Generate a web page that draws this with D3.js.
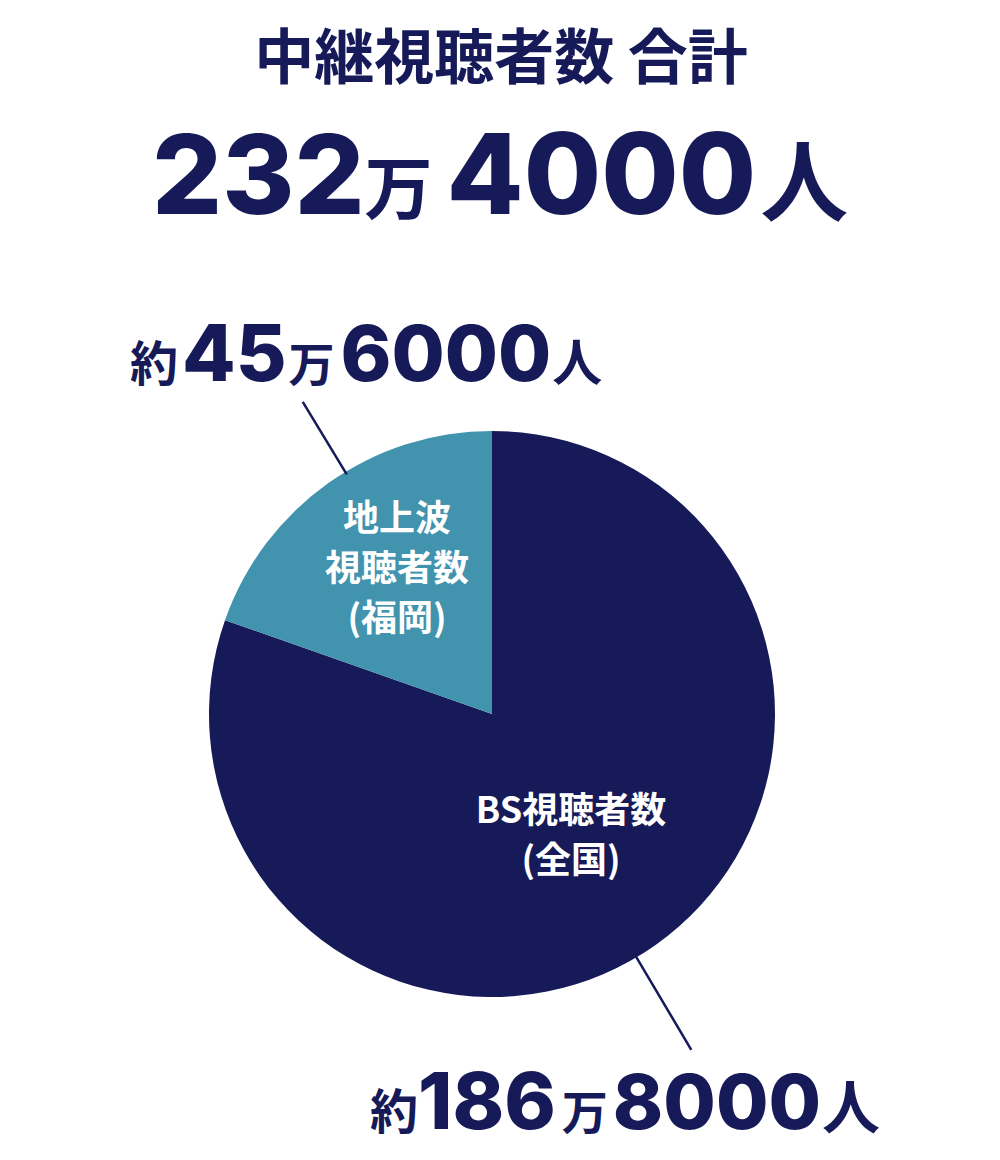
<!DOCTYPE html>
<html>
<head>
<meta charset="utf-8">
<script src="https://cdn.jsdelivr.net/npm/d3@7"></script>
<style>
  body { margin: 0; background: #fff; }
  svg { display: block; }
</style>
</head>
<body>
<svg id="chart" width="1000" height="1160"></svg>
<script>
// data
var categories = ["BS視聴者数(全国)", "地上波視聴者数(福岡)"];
var values = [186.8, 45.6];            // 万人
var sliceColors = ["#161a58", "#4193ae"];
var totalParts = ["232", "万", "4000", "人"];
var labelParts = [["約", "186", "万", "8000", "人"], ["約", "45", "万", "6000", "人"]];
var innerLines = [["BS視聴者数", "(全国)"], ["地上波", "視聴者数", "(福岡)"]];

var navy = "#161a58";
var cjk = "'Noto Sans CJK JP', sans-serif";
var num = "Inter, 'Noto Sans', sans-serif";

var svg = d3.select("#chart");

// TITLE
svg.append("text")
    .attr("x", 501).attr("y", 79)
    .attr("text-anchor", "middle")
    .attr("font-family", cjk).attr("font-weight", 700)
    .attr("font-size", 60).attr("fill", navy)
    .text("中継視聴者数 合計");

// big number with mixed sizes
function numberText(parts, x, y, sizes, fams, gaps) {
    var t = svg.append("text")
        .attr("x", x).attr("y", y)
        .attr("fill", navy);
    parts.forEach(function (p, i) {
        t.append("tspan")
            .attr("font-size", sizes[i])
            .attr("font-family", fams[i])
            .attr("font-weight", fams[i] == num ? 800 : 700)
            .attr("dx", gaps[i])
            .text(p);
    });
    return t;
}

numberText(totalParts, 152, 214, [110, 68, 112, 88], [num, cjk, num, cjk], [0, 0, 14, 4]);

// PIE
var cx = 492, cy = 714, r = 283;
var pie = d3.pie().sort(null).value(function (d) { return d; });
var arc = d3.arc().innerRadius(0).outerRadius(r);
var arcs = pie(values);

var g = svg.append("g").attr("transform", "translate(" + cx + "," + cy + ")");
g.selectAll("path")
    .data(arcs)
    .enter().append("path")
    .attr("d", arc)
    .attr("fill", function (d, i) { return sliceColors[i]; });

// inner labels
var innerPos = [[571, 810], [397, 518]];
innerLines.forEach(function (lines, k) {
    var t = svg.append("text")
        .attr("text-anchor", "middle")
        .attr("font-family", cjk).attr("font-weight", 700)
        .attr("font-size", 36).attr("fill", "#fff");
    lines.forEach(function (l, i) {
        t.append("tspan")
            .attr("x", innerPos[k][0])
            .attr("y", innerPos[k][1] + 13 + i * 50)
            .text(l);
    });
});

// leader lines: BS lower right, teal upper left
var ang = [2.606, -0.545];
var leaders = [[0.99, 1.38], [0.99, 1.29]];
ang.forEach(function (a, i) {
    g.append("line")
        .attr("x1", Math.sin(a) * r * leaders[i][0])
        .attr("y1", -Math.cos(a) * r * leaders[i][0])
        .attr("x2", Math.sin(a) * r * leaders[i][1])
        .attr("y2", -Math.cos(a) * r * leaders[i][1])
        .attr("stroke", navy).attr("stroke-width", 2.5);
});

// outer value labels
numberText(labelParts[1], 130, 381, [48, 78, 46, 77, 50], [cjk, num, cjk, num, cjk], [0, 4, 2, 6, 1]);
numberText(labelParts[0], 370, 1129, [48, 78, 46, 76, 58], [cjk, num, cjk, num, cjk], [0, 0, 6, 5, 1]);
</script>
</body>
</html>
